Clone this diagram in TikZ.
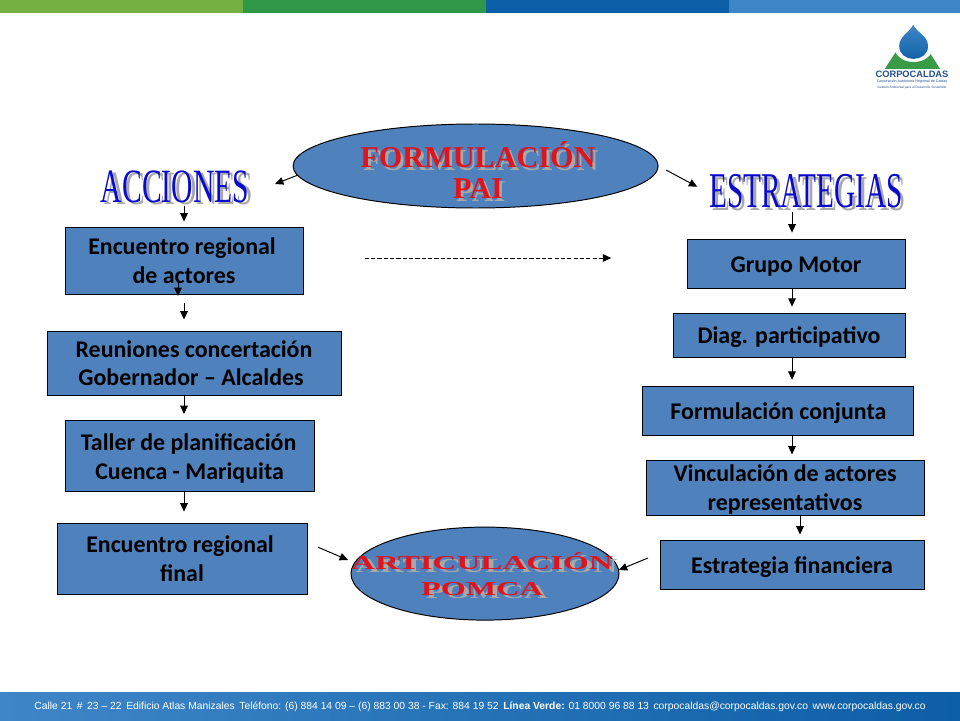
\documentclass[tikz,border=0pt]{standalone}
\usepackage{fontspec}
\setmainfont{Carlito}
\newfontfamily\wordfont{Liberation Serif}
\newfontfamily\footfont{Liberation Sans}
\usetikzlibrary{arrows.meta,shapes.geometric}
\usepackage{xcolor}
\definecolor{boxblue}{HTML}{4F81BD}
\definecolor{wordgray}{HTML}{A8A8A8}
\definecolor{wordred}{HTML}{E0141C}
\definecolor{wordblue}{HTML}{0A0ACD}
\definecolor{logoblue}{HTML}{234F8F}
\definecolor{barlime}{HTML}{76B043}
\definecolor{bargreen}{HTML}{2F9748}
\definecolor{bardark}{HTML}{0C5EA6}
\definecolor{barsky}{HTML}{3F86C8}
\newcommand{\shadowed}[3][2pt]{\rlap{\hspace{#1}\raisebox{-2pt}{\textcolor{wordgray}{#3}}}\textcolor{#2}{#3}}
\newcommand{\corre}[1]{\rule{#1}{0pt}}
\tikzset{
  stepbox/.style={draw=black,fill=boxblue,line width=0.7pt,align=center,inner sep=0pt,
    font=\fontsize{17}{20.6}\selectfont\bfseries,text=black},
  onebox/.style={stepbox,execute at begin node={\rule{0pt}{15pt}}},
  oval/.style={ellipse,draw=black,fill=boxblue,line width=0.7pt,inner sep=0pt},
  ovaltext/.style={inner sep=0pt,align=center},
  flecha/.style={->,line width=0.7pt},
}
\begin{document}
\begin{tikzpicture}[>={Triangle[length=2.1mm,width=1.9mm]},line cap=butt]
\useasboundingbox (0,0) rectangle (24,18);
% franjas
\fill[white] (0,0) rectangle (24,18);
\fill[barlime] (0,17.68) rectangle (6.08,18);
\fill[bargreen] (6.08,17.68) rectangle (12.15,18);
\fill[bardark] (12.15,17.68) rectangle (18.23,18);
\fill[barsky] (18.23,17.68) rectangle (24,18);
\shade[left color=barsky,right color=bardark] (0,0) rectangle (24,0.7);
\node[text=white,font=\footfont\fontsize{7.35}{9}\selectfont] (pie) at (12,0.34) {Calle 21 \,\#\, 23 – 22\, Edificio Atlas Manizales\, Teléfono: (6) 884 14 09 – (6) 883 00 38 - Fax: 884 19 52\, \textbf{Línea Verde:} 01 8000 96 88 13\, corpocaldas@corpocaldas.gov.co\, www.corpocaldas.gov.co};
% logo
\fill[bargreen!85!barlime] (22.12,16.28) -- (23.5,16.28) -- (22.82,17.35) -- cycle;
\fill[white] (22.84,16.82) ellipse (0.48 and 0.37);
\shade[top color=barsky,bottom color=bardark] (22.83,17.38) .. controls (22.75,17.2) and (22.48,17.1) .. (22.48,16.85) .. controls (22.48,16.42) and (23.2,16.42) .. (23.2,16.85) .. controls (23.2,17.1) and (22.91,17.2) .. (22.83,17.38) -- cycle;
\node[text=logoblue,font=\footfont\fontsize{6.6}{7}\selectfont\bfseries] (logo) at (22.8,16.15) {CORPOCALDAS};
\node[text=logoblue,font=\footfont\fontsize{2.6}{3}\selectfont] (logoa) at (22.8,15.95) {Corporación Autónoma Regional de Caldas};
\node[text=logoblue,font=\footfont\fontsize{2.3}{3}\selectfont] (logob) at (22.8,15.8) {Gestión Ambiental para el Desarrollo Sostenible};
% ovalos y titulos
\node[oval,minimum width=9.125cm,minimum height=2.1cm] (formulacion) at (11.89,13.85) {};
\node[ovaltext,font=\wordfont\fontsize{21.5}{22.5}\selectfont\bfseries] (formulaciontxt) at (11.95,13.71) {\shadowed{wordred}{FORMULACIÓN}\\\shadowed{wordred}{PAI}};
\node[oval,minimum width=6.7cm,minimum height=2.325cm] (articulacion) at (12.125,3.66) {};
\node[ovaltext,font=\wordfont\fontsize{14}{19}\selectfont\bfseries] (articulaciontxt) at (12.05,3.61) {\scalebox{1.68}[1]{\shadowed{wordred}{ARTICULACIÓN}}\\\scalebox{1.64}[1]{\shadowed{wordred}{POMCA}}};
\node[inner sep=0pt,font=\wordfont\fontsize{34}{36}\selectfont] (acciones) at (4.375,13.3) {\scalebox{.62}[1]{\shadowed[4pt]{wordblue}{ACCIONES}}};
\node[inner sep=0pt,font=\wordfont\fontsize{35.6}{36}\selectfont] (estrategias) at (20.15,13.175) {\scalebox{.585}[1]{\shadowed[4pt]{wordblue}{ESTRATEGIAS}}};
% columna izquierda
\node[stepbox,minimum width=5.95cm,minimum height=1.675cm] (encuentro) at (4.6,11.48) {Encuentro regional\corre{0.1cm}\\de actores};
\node[stepbox,minimum width=7.35cm,minimum height=1.6cm] (reuniones) at (4.85,8.92) {Reuniones concertación\\Gobernador – Alcaldes\corre{0.15cm}};
\node[stepbox,minimum width=6.225cm,minimum height=1.775cm] (taller) at (4.74,6.6) {\rule{0pt}{15pt}Taller de planificación\corre{0.05cm}\\Cuenca - Mariquita};
\node[stepbox,minimum width=6.25cm,minimum height=1.775cm] (final) at (4.55,4.03) {Encuentro regional\corre{0.1cm}\\final};
% columna derecha
\node[onebox,minimum width=5.45cm,minimum height=1.225cm] (grupo) at (19.9,11.41) {Grupo Motor};
\node[onebox,minimum width=5.8cm,minimum height=1.1cm] (diag) at (19.725,9.62) {Diag. participativo};
\node[onebox,minimum width=6.775cm,minimum height=1.225cm] (conjunta) at (19.46,7.73) {Formulación conjunta};
\node[stepbox,minimum width=6.95cm,minimum height=1.375cm] (vinculacion) at (19.625,5.81) {\rule{0pt}{14.5pt}Vinculación de actores\\representativos};
\node[onebox,minimum width=6.6cm,minimum height=1.225cm] (financiera) at (19.8,3.88) {Estrategia financiera};
% puntos libres
\coordinate (colizq) at (4.6,0);
\coordinate (colder) at (19.8,0);
\coordinate (colvin) at (20,0);
\coordinate (accionesb) at (6.875,13.4);
\coordinate (actoresa) at (4.45,11);
\coordinate (actoresb) at (4.45,10.6);
\coordinate (rayaa) at (9.12,11.55);
\coordinate (rayab) at (15.28,11.55);
\coordinate (finala) at (7.95,4.32);
\coordinate (finalb) at (8.7,4);
\coordinate (finana) at (16.2,4.05);
\coordinate (finanb) at (15.47,3.75);
% flechas
\draw[flecha] (formulacion.183) -- (accionesb);
\draw[flecha,shorten <=0.22cm,shorten >=0.33cm] (formulacion.east) -- (estrategias.west);
\draw[flecha,shorten >=0.13cm] (acciones.south -| colizq) -- (encuentro.north);
\draw[flecha] (actoresa) -- (actoresb);
\draw[flecha,shorten <=0.2cm,shorten >=0.28cm] (encuentro.south) -- (reuniones.north -| colizq);
\draw[flecha,shorten >=0.15cm] (reuniones.south -| colizq) -- (taller.north -| colizq);
\draw[flecha,shorten >=0.28cm] (taller.south -| colizq) -- (final.north -| colizq);
\draw[flecha] (finala) -- (finalb);
\draw[flecha] (finana) -- (finanb);
\draw[flecha,dashed,dash pattern=on 3pt off 1.5pt] (rayaa) -- (rayab);
\draw[flecha,shorten >=0.15cm] (estrategias.south -| colder) -- (grupo.north -| colder);
\draw[flecha,shorten >=0.15cm] (grupo.south -| colder) -- (diag.north -| colder);
\draw[flecha,shorten >=0.15cm] (diag.south -| colder) -- (conjunta.north -| colder);
\draw[flecha,shorten >=0.13cm] (conjunta.south -| colder) -- (vinculacion.north -| colder);
\draw[flecha,shorten >=0.13cm] (vinculacion.south -| colvin) -- (financiera.north -| colvin);
\end{tikzpicture}
\end{document}
